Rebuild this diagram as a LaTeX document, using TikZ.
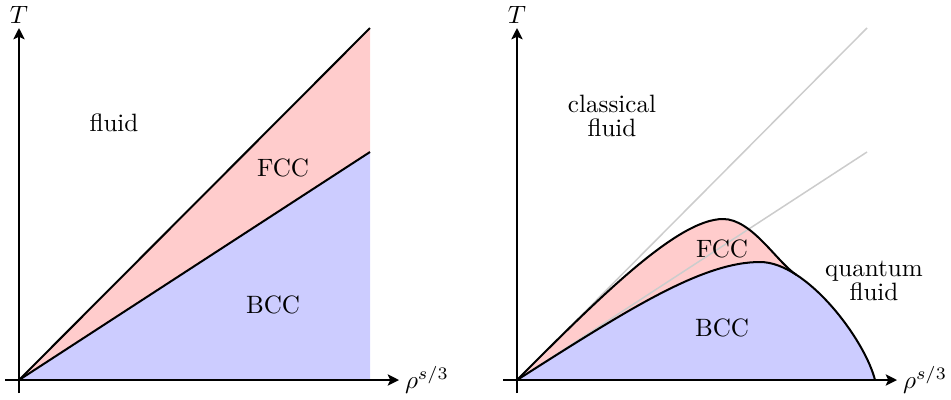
\documentclass[tikz,border=0pt]{standalone}
\usepackage{xcolor}
\usepackage{tikz}
\usetikzlibrary{arrows.meta}

\begin{document}
\begin{tikzpicture}[x=0.014cm,y=0.014cm,
  axis/.style={thick,-{Stealth[length=4.5pt,width=4.5pt,inset=1pt]}},
  border/.style={thick},
  guide/.style={semithick,black!20}]
\useasboundingbox (0,0) rectangle (951,399);
% classical picture
\begin{scope}[shift={(19,19)}]
\coordinate (o1) at (0,0);
\coordinate (lo1) at (351,228);
\coordinate (hi1) at (351,352);
\fill[blue!20] (o1) -- (lo1 |- o1) -- (lo1) -- cycle;
\fill[red!20] (o1) -- (lo1) -- (hi1) -- cycle;
\draw[border] (o1) -- (hi1);
\draw[border] (o1) -- (lo1);
\draw[axis] (-14,0) -- (380,0) node[right,inner sep=2pt] (rho1) {$\rho^{s/3}$};
\draw[axis] (0,-13) -- (0,352) node[above,inner sep=1.5pt] (T1) {$T$};
\node (fluid1) at (95,257) {fluid};
\node (fcc1) at (264,212) {FCC};
\node (bcc1) at (254,75) {BCC};
\end{scope}
% quantum picture
\begin{scope}[shift={(517,19)}]
\coordinate (o2) at (0,0);
\coordinate (lo2) at (350,228);
\coordinate (hi2) at (350,352);
\coordinate (top) at (206,161);
\coordinate (peak) at (243,118);
\coordinate (meet) at (279.3,105.2);
\coordinate (melt) at (358,0);
\fill[red!20] (o2) .. controls (80,80) and (160,161) .. (top)
  .. controls (235,161) and (259.8,117.9) .. (meet) -- (meet |- o2) -- cycle;
\fill[blue!20] (o2) .. controls (110,70) and (185,118) .. (peak)
  .. controls (290,118) and (348,40) .. (melt) -- cycle;
\draw[guide] (o2) -- (hi2);
\draw[guide] (o2) -- (lo2);
\draw[border] (o2) .. controls (80,80) and (160,161) .. (top)
  .. controls (235,161) and (259.8,117.9) .. (meet);
\draw[border] (o2) .. controls (110,70) and (185,118) .. (peak)
  .. controls (290,118) and (348,40) .. (melt);
\draw[axis] (-14,0) -- (380,0) node[right,inner sep=2pt] (rho2) {$\rho^{s/3}$};
\draw[axis] (0,-13) -- (0,352) node[above,inner sep=1.5pt] (T2) {$T$};
\node[align=center] (cfluid) at (95,264) {classical\\[-2.6pt]fluid};
\node (fcc2) at (205,131) {FCC};
\node (bcc2) at (205,52) {BCC};
\node[align=center] (qfluid) at (357,99) {quantum\\[-2.6pt]fluid};
\end{scope}
\end{tikzpicture}
\end{document}
